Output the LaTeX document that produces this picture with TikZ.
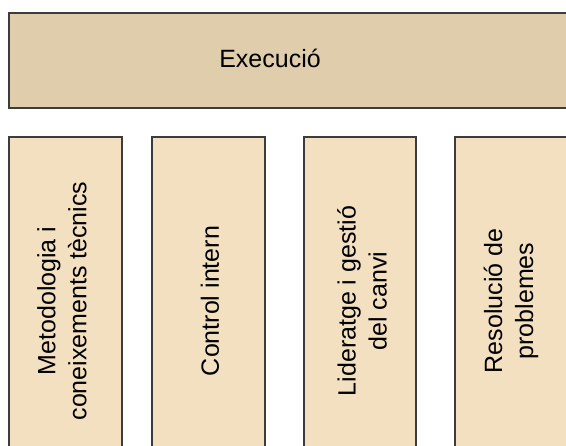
\documentclass[tikz,border=0pt]{standalone}
\usepackage{fontspec}
\setmainfont{Liberation Sans}
\definecolor{topfill}{RGB}{224,205,172}
\definecolor{boxfill}{RGB}{243,224,193}
\definecolor{edge}{RGB}{60,60,60}
\begin{document}
\begin{tikzpicture}[x=1pt,y=-1pt,
  panel/.style={draw=edge,line width=1.6pt},
  lbl/.style={font=\fontsize{25}{31}\selectfont,align=center,inner sep=0pt},
  vlbl/.style={lbl,rotate=90}]
\useasboundingbox (0,0) rectangle (566,446);
\clip (0,0) rectangle (566,446);
\fill[white] (0,0) rectangle (566,446);
\draw[panel,fill=topfill] (9,13) rectangle (600,108);
\node[lbl] (exec) at (270,58) {Execució};
\draw[panel,fill=boxfill] (9,137) rectangle (122,470);
\draw[panel,fill=boxfill] (152,137) rectangle (265,470);
\draw[panel,fill=boxfill] (304,137) rectangle (416,470);
\draw[panel,fill=boxfill] (455,137) rectangle (568,470);
\node[vlbl] (m) at (62,301) {Metodologia i\\coneixements tècnics};
\node[vlbl] (c) at (210,301) {Control intern};
\node[vlbl] (l) at (362,301) {Lideratge i gestió\\del canvi};
\node[vlbl] (r) at (511,301) {Resolució de\\problemes};
\end{tikzpicture}
\end{document}
